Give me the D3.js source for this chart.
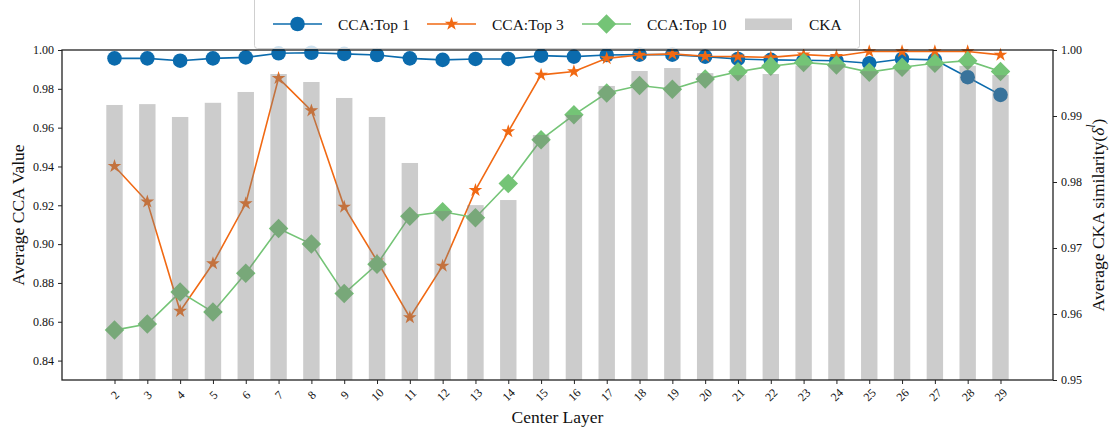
<!DOCTYPE html>
<html lang="en">
<head>
<meta charset="utf-8">
<title>CCA and CKA by center layer</title>
<script src="https://d3js.org/d3.v7.min.js"></script>
<style>
body { margin: 0; background: #fff; }
svg text { font-family: "Liberation Serif", "DejaVu Serif", serif; fill: #111; }
.tick text { font-size: 12px; }
.axis-label { font-size: 17.5px; }
.legend text { font-size: 15.5px; }
</style>
</head>
<body>
<svg width="1112" height="434"></svg>
<script>
// values
const layers = [2, 3, 4, 5, 6, 7, 8, 9, 10, 11, 12, 13, 14, 15, 16, 17, 18, 19, 20, 21, 22, 23, 24, 25, 26, 27, 28, 29];
const ccaTop1 = [0.9957, 0.9957, 0.9945, 0.9957, 0.9962, 0.9983, 0.9986, 0.998, 0.9974, 0.9957, 0.9949, 0.9954, 0.9954, 0.9971,
                 0.9966, 0.9974, 0.9976, 0.9976, 0.9966, 0.9954, 0.9949, 0.9947, 0.9945, 0.9932, 0.9954, 0.9949, 0.986, 0.9769];
const ccaTop3 = [0.9401, 0.9218, 0.8655, 0.890, 0.9209, 0.9855, 0.9688, 0.9192, 0.8914, 0.8622, 0.8888, 0.9278, 0.958, 0.9872,
                 0.9889, 0.9957, 0.9974, 0.998, 0.9968, 0.9966, 0.9962, 0.9976, 0.9968, 0.9992, 0.9992, 0.9992, 0.9992, 0.9975];
const ccaTop10 = [0.8557, 0.8588, 0.8753, 0.865, 0.885, 0.908, 0.900, 0.8745, 0.8896, 0.9144, 0.9167, 0.9136, 0.9312, 0.9538,
                  0.9666, 0.9778, 0.9817, 0.9798, 0.9850, 0.9888, 0.9916, 0.9936, 0.9923, 0.9886, 0.9911, 0.9932, 0.9945, 0.9889];
const cka = [0.99167, 0.9918, 0.98985, 0.9920, 0.99364, 0.99636, 0.99515, 0.99273, 0.98985, 0.98288, 0.9756, 0.9765, 0.97727, 0.98712,
             0.99015, 0.99455, 0.99682, 0.99727, 0.9965, 0.9962, 0.99636, 0.99765, 0.9978, 0.9968, 0.997, 0.9976, 0.9976, 0.9962];
const leftTicks = [0.84, 0.86, 0.88, 0.90, 0.92, 0.94, 0.96, 0.98, 1.00];
const rightTicks = [0.95, 0.96, 0.97, 0.98, 0.99, 1.00];

const svg = d3.select("svg");
const plotLeft = 62, plotRight = 1053, plotTop = 50, plotBottom = 380;

// scales
const x = d3.scalePoint()
            .domain(layers)
            .range([plotLeft, plotRight])
            .padding(1.6);
const yLeft = d3.scaleLinear().domain([0.83, 1.0]).range([plotBottom, plotTop]);
const yRight = d3.scaleLinear().domain([0.95, 1.0]).range([plotBottom, plotTop]);

// square turned 45 degrees, like matplotlib's "D"
const diamond = {
  draw(ctx, size) {
    const r = Math.sqrt(size / 2);
    ctx.moveTo(0, -r); ctx.lineTo(r, 0); ctx.lineTo(0, r); ctx.lineTo(-r, 0); ctx.closePath();
  }
};

const series = [
  { name: "CCA:Top 1", values: ccaTop1, color: "#0b6bad", type: d3.symbolCircle, size: Math.PI * 7.3 * 7.3 },
  { name: "CCA:Top 3", values: ccaTop3, color: "#f16913", type: d3.symbolStar, size: 58 },
  { name: "CCA:Top 10", values: ccaTop10, color: "#74c476", type: diamond, size: 190 }
];

// lines and markers
const line = d3.line()
               .x((d, i) => x(layers[i]))
               .y(d => yLeft(d));

series.forEach(s => {
  const g = svg.append("g");
  g.append("path")
   .attr("d", line(s.values))
   .attr("fill", "none")
   .attr("stroke", s.color)
   .attr("stroke-width", 1.6);
  g.selectAll("path.marker")
   .data(s.values)
   .enter()
   .append("path")
   .attr("class", "marker")
   .attr("transform", (d, i) => "translate(" + x(layers[i]) + "," + yLeft(d) + ")")
   .attr("d", d3.symbol().type(s.type).size(s.size))
   .attr("fill", s.color);
});

// CKA bars on the twin axis, drawn over the lines
const barW = x.step() * 0.5;
svg.append("g")
   .selectAll("rect")
   .data(cka)
   .enter()
   .append("rect")
   .attr("x", (d, i) => x(layers[i]) - barW / 2)
   .attr("y", d => yRight(d))
   .attr("width", barW)
   .attr("height", d => yRight(0.95) - yRight(d))
   .attr("fill", "gray")
   .attr("fill-opacity", 0.4);

// axes
const leftAxis = d3.axisLeft(yLeft)
                   .tickValues(leftTicks)
                   .tickFormat(d3.format(".2f"))
                   .tickSize(4).tickSizeOuter(0).tickPadding(4);
const rightAxis = d3.axisRight(yRight)
                    .tickValues(rightTicks)
                    .tickFormat(d3.format(".2f"))
                    .tickSize(4).tickSizeOuter(0).tickPadding(4);
const bottomAxis = d3.axisBottom(x)
                     .tickSize(4).tickSizeOuter(0);

svg.append("g").attr("transform", "translate(" + plotLeft + ",0)").call(leftAxis);
svg.append("g").attr("transform", "translate(" + plotRight + ",0)").call(rightAxis);
const xg = svg.append("g").attr("transform", "translate(0," + plotBottom + ")").call(bottomAxis);
xg.selectAll(".tick text")
  .attr("y", null).attr("dy", null)
  .attr("dominant-baseline", "central")
  .attr("text-anchor", "middle")
  .attr("transform", "translate(0,15) rotate(-45)");
svg.selectAll(".domain").remove();
svg.selectAll(".tick line").attr("stroke", "#222");

// frame
svg.append("rect")
   .attr("x", plotLeft).attr("y", plotTop)
   .attr("width", plotRight - plotLeft).attr("height", plotBottom - plotTop)
   .attr("fill", "none")
   .attr("stroke", "#222")
   .attr("stroke-width", 1.3);

// axis titles
svg.append("text")
   .attr("class", "axis-label")
   .attr("text-anchor", "middle")
   .attr("x", (plotLeft + plotRight) / 2)
   .attr("y", 423)
   .text("Center Layer");

svg.append("text")
   .attr("class", "axis-label")
   .attr("text-anchor", "middle")
   .attr("dominant-baseline", "central")
   .attr("transform", "translate(18," + (plotTop + plotBottom) / 2 + ") rotate(-90)")
   .text("Average CCA Value");

const rl = svg.append("text")
   .attr("class", "axis-label")
   .attr("text-anchor", "middle")
   .attr("dominant-baseline", "central")
   .attr("transform", "translate(1098," + (plotTop + plotBottom) / 2 + ") rotate(-90)");
rl.append("tspan").text("Average CKA similarity(");
rl.append("tspan").attr("font-style", "italic").text("δ");
rl.append("tspan").attr("font-style", "italic").attr("font-size", "12px").attr("dy", -7).text("l");
rl.append("tspan").attr("dy", 7).text(")");

// legend
const legend = svg.append("g").attr("class", "legend");
legend.append("rect")
      .attr("x", 254.5).attr("y", -6)
      .attr("width", 605).attr("height", 54.5)
      .attr("rx", 3)
      .attr("fill", "white").attr("fill-opacity", 0.8)
      .attr("stroke", "#cfcfcf");

const legendX = [273, 427, 582, 745];
series.forEach((s, i) => {
  const lx = legendX[i];
  legend.append("line")
        .attr("x1", lx).attr("x2", lx + 49)
        .attr("y1", 24).attr("y2", 24)
        .attr("stroke", s.color).attr("stroke-width", 1.6);
  legend.append("path")
        .attr("transform", "translate(" + (lx + 24.5) + ",24)")
        .attr("d", d3.symbol().type(s.type).size(s.size))
        .attr("fill", s.color);
  legend.append("text")
        .attr("x", lx + 65).attr("y", 29.5)
        .text(s.name);
});
legend.append("rect")
      .attr("x", legendX[3]).attr("y", 18.5)
      .attr("width", 47).attr("height", 11.5)
      .attr("fill", "gray").attr("fill-opacity", 0.4);
legend.append("text")
      .attr("x", 809).attr("y", 29.5)
      .text("CKA");
</script>
</body>
</html>
